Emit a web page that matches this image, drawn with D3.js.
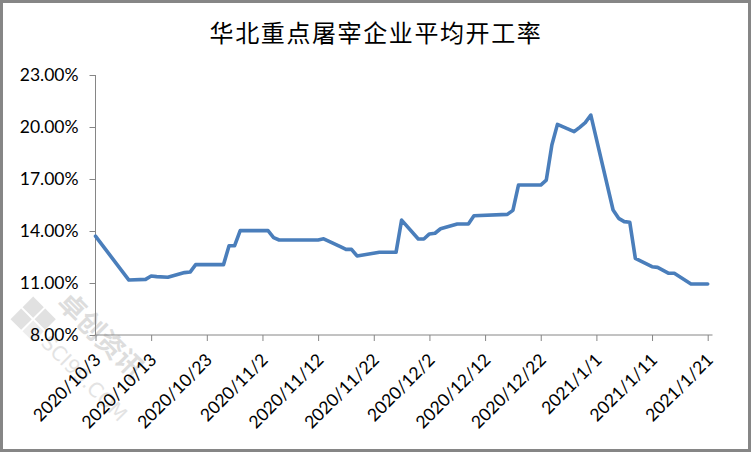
<!DOCTYPE html>
<html>
<head>
<meta charset="utf-8">
<script src="https://cdn.jsdelivr.net/npm/d3@7/dist/d3.min.js"></script>
<style>
  html, body { margin: 0; padding: 0; background: #fff; }
  svg { display: block; }
</style>
</head>
<body>
<svg id="chart" width="751" height="452"></svg>
<script>
// ---- data ----
const titleText = "华北重点屠宰企业平均开工率";
const dates = ["2020-10-03","2020-10-09","2020-10-12","2020-10-13","2020-10-14","2020-10-16","2020-10-19","2020-10-20","2020-10-21","2020-10-26","2020-10-27","2020-10-28","2020-10-29","2020-11-03","2020-11-04","2020-11-05","2020-11-12","2020-11-13","2020-11-16","2020-11-17","2020-11-18","2020-11-19","2020-11-23","2020-11-26","2020-11-27","2020-11-30","2020-12-01","2020-12-02","2020-12-03","2020-12-04","2020-12-07","2020-12-09","2020-12-10","2020-12-16","2020-12-17","2020-12-18","2020-12-22","2020-12-23","2020-12-24","2020-12-25","2020-12-28","2020-12-29","2020-12-30","2020-12-31","2021-01-04","2021-01-05","2021-01-06","2021-01-07","2021-01-08","2021-01-11","2021-01-12","2021-01-14","2021-01-15","2021-01-18","2021-01-21"];
const values = [13.70,11.17,11.21,11.40,11.37,11.33,11.60,11.63,12.06,12.06,13.15,13.15,14.02,14.02,13.62,13.48,13.48,13.55,13.10,12.94,12.94,12.56,12.77,12.77,14.63,13.54,13.54,13.83,13.87,14.13,14.40,14.40,14.88,14.96,15.19,16.65,16.65,16.94,18.96,20.15,19.73,19.98,20.25,20.69,15.21,14.73,14.54,14.50,12.42,11.94,11.90,11.56,11.56,10.94,10.94];
const xTickLabels = ["2020/10/3","2020/10/13","2020/10/23","2020/11/2","2020/11/12","2020/11/22","2020/12/2","2020/12/12","2020/12/22","2021/1/1","2021/1/11","2021/1/21"];
const yTicks = [8, 11, 14, 17, 20, 23];

// ---- setup ----
const svg = d3.select("#chart");
const W = 751, H = 452;
const mLeft = 95.5, mRight = 707.7, mTop = 75, mBottom = 335;
const axisEnd = 712.5;
const axisColor = "#868686";
const lineColor = "#4A7EBB";
const labelFont = "Lato, 'Open Sans', 'DejaVu Sans', sans-serif";

const parse = s => { const [yy,mm,dd] = s.split("-").map(Number); return new Date(Date.UTC(yy, mm-1, dd)); };
const parseLabel = s => { const [yy,mm,dd] = s.split("/").map(Number); return new Date(Date.UTC(yy, mm-1, dd)); };
const data = dates.map((d, i) => ({ date: parse(d), value: values[i] }));
const tickDates = xTickLabels.map(parseLabel);

const x = d3.scaleUtc()
  .domain([tickDates[0], tickDates[tickDates.length - 1]])
  .range([mLeft, mRight]);
const y = d3.scaleLinear().domain([8, 23]).range([mBottom, mTop]);

svg.append("rect").attr("x", 0).attr("y", 0).attr("width", W).attr("height", H).attr("fill", "#fff");

// watermark
const wm = svg.append("g").attr("opacity", 0.5);
const wmG = wm.append("g").attr("transform", "translate(36,322) rotate(45)");
wmG.append("rect").attr("x", -20).attr("y", -16).attr("width", 15).attr("height", 15).attr("fill", "#c4c4c4");
wmG.append("rect").attr("x", -3).attr("y", -16).attr("width", 15).attr("height", 15).attr("fill", "#c4c4c4");
wmG.append("rect").attr("x", -20).attr("y", 1).attr("width", 15).attr("height", 15).attr("fill", "#c4c4c4");
wmG.append("rect").attr("x", -3).attr("y", 1).attr("width", 15).attr("height", 15).attr("fill", "#dcdcdc");
wm.append("text")
  .attr("transform", "translate(56,304) rotate(45)")
  .attr("font-family", "'Noto Sans CJK SC', sans-serif")
  .attr("font-size", 27).attr("font-weight", "bold")
  .attr("fill", "#bdbdbd")
  .text("卓创资讯");
wm.append("text")
  .attr("transform", "translate(40,344) rotate(45)")
  .attr("font-family", "'DejaVu Sans', sans-serif")
  .attr("font-size", 20)
  .attr("fill", "#c8c8c8")
  .text("SCI99.COM");

// title
svg.append("text")
  .attr("x", 376).attr("y", 42)
  .attr("text-anchor", "middle")
  .attr("font-family", "'Noto Sans CJK SC', 'Noto Sans CJK JP', sans-serif")
  .attr("font-size", 24)
  .attr("letter-spacing", "1.6px")
  .attr("fill", "#000")
  .text(titleText);

// y axis
const yAxis = d3.axisLeft(y).tickValues(yTicks).tickSize(6).tickPadding(11)
  .tickFormat(d => d.toFixed(2) + "%");
const gy = svg.append("g").attr("transform", `translate(${mLeft},0)`).call(yAxis);
gy.select(".domain").attr("stroke", axisColor).attr("d", `M0,${mTop}V${mBottom}`);
gy.selectAll(".tick line").attr("stroke", axisColor);
gy.selectAll(".tick text")
  .attr("font-family", labelFont).attr("font-size", 17.5).attr("fill", "#000");

// x axis
const xAxis = d3.axisBottom(x).tickValues(tickDates).tickSize(6)
  .tickFormat((d, i) => xTickLabels[i]);
const gx = svg.append("g").attr("transform", `translate(0,${mBottom})`).call(xAxis);
gx.select(".domain").attr("stroke", axisColor).attr("d", `M${mLeft},0H${axisEnd}`);
gx.selectAll(".tick line").attr("stroke", axisColor);
gx.selectAll(".tick text")
  .attr("font-family", labelFont).attr("font-size", 17.5).attr("fill", "#000")
  .attr("text-anchor", "end")
  .attr("y", 0).attr("dy", 0)
  .attr("transform", "translate(6,26) rotate(-45)");

// line
const line = d3.line().x(d => x(d.date)).y(d => y(d.value)).curve(d3.curveLinear);
svg.append("path")
  .datum(data)
  .attr("fill", "none")
  .attr("stroke", lineColor)
  .attr("stroke-width", 3.6)
  .attr("stroke-linejoin", "round")
  .attr("stroke-linecap", "round")
  .attr("d", line);

// outer border
svg.append("rect").attr("x", 1.5).attr("y", 1.5).attr("width", W - 3).attr("height", H - 3)
  .attr("fill", "none").attr("stroke", "#868686").attr("stroke-width", 3);
</script>
</body>
</html>
